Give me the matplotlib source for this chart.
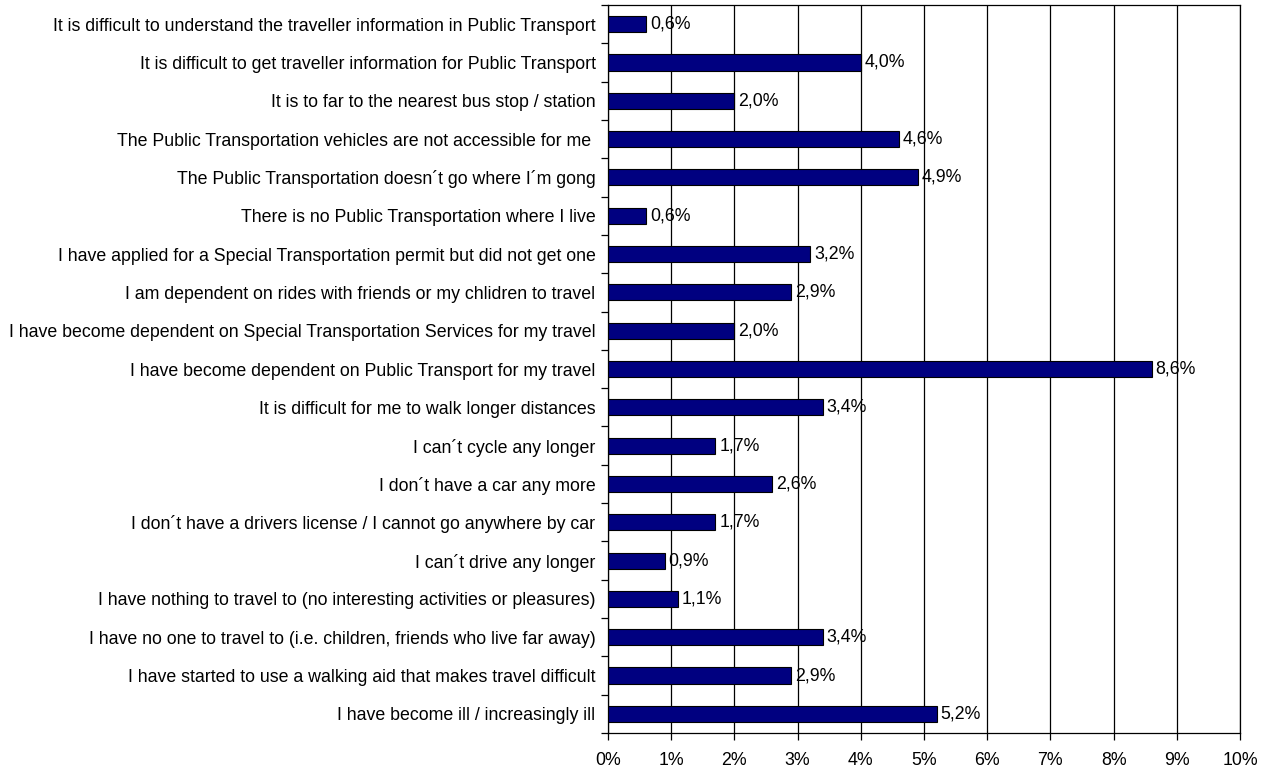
import matplotlib.pyplot as plt
from matplotlib.ticker import FixedLocator, FuncFormatter

plt.rcParams['font.family'] = ['Liberation Sans', 'DejaVu Sans']

reasons = [
    "It is difficult to understand the traveller information in Public Transport",
    "It is difficult to get traveller information for Public Transport",
    "It is to far to the nearest bus stop / station",
    "The Public Transportation vehicles are not accessible for me ",
    "The Public Transportation doesn\u00b4t go where I\u00b4m gong",
    "There is no Public Transportation where I live",
    "I have applied for a Special Transportation permit but did not get one",
    "I am dependent on rides with friends or my chlidren to travel",
    "I have become dependent on Special Transportation Services for my travel",
    "I have become dependent on Public Transport for my travel",
    "It is difficult for me to walk longer distances",
    "I can\u00b4t cycle any longer",
    "I don\u00b4t have a car any more",
    "I don\u00b4t have a drivers license / I cannot go anywhere by car",
    "I can\u00b4t drive any longer",
    "I have nothing to travel to (no interesting activities or pleasures)",
    "I have no one to travel to (i.e. children, friends who live far away)",
    "I have started to use a walking aid that makes travel difficult",
    "I have become ill / increasingly ill",
]
shares = [0.6, 4.0, 2.0, 4.6, 4.9, 0.6, 3.2, 2.9, 2.0, 8.6,
          3.4, 1.7, 2.6, 1.7, 0.9, 1.1, 3.4, 2.9, 5.2]

fs = 12.8

fig = plt.figure(figsize=(12.71, 7.71), dpi=100)
ax = fig.add_axes([0.4784, 0.0493, 0.4972, 0.9442])

n = len(reasons)
ypos = list(range(n))[::-1]
ax.barh(ypos, shares, height=0.42, color='#000080', edgecolor='black',
        linewidth=0.8, zorder=3)

for y, v in zip(ypos, shares):
    ax.text(v + 0.06, y, ('%.1f%%' % v).replace('.', ','),
            va='center', ha='left', fontsize=fs, zorder=4)

ax.set_xlim(0, 10)
ax.set_ylim(-0.5, n - 0.5)
ax.set_xticks(range(11))
ax.xaxis.set_major_formatter(FuncFormatter(lambda x, p: '%d%%' % x))
ax.xaxis.grid(True, color='black', linewidth=0.9, zorder=1)

# labels on the bars, tick marks between categories
ax.set_yticks(ypos)
ax.set_yticklabels(reasons, fontsize=fs)
ax.tick_params(axis='y', which='major', length=0, pad=9)
ax.yaxis.set_minor_locator(FixedLocator([i - 0.5 for i in range(n + 1)]))
ax.tick_params(axis='y', which='minor', length=5, width=0.9, direction='out')
ax.tick_params(axis='x', length=5, width=0.9, direction='out', labelsize=fs, pad=9)

for s in ax.spines.values():
    s.set_linewidth(0.9)

fig.savefig('out.png', dpi=100)
